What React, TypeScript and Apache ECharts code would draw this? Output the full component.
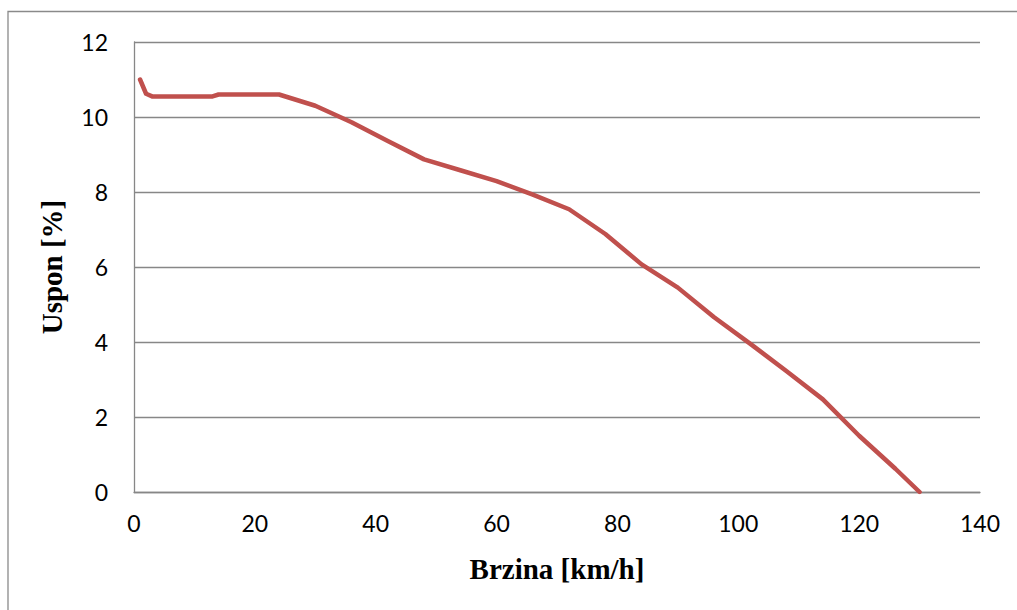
import React, { useEffect, useRef } from "react";
import * as echarts from "echarts";

const speedKmh = [1, 2, 3, 6, 12, 13, 14, 18, 24, 30, 36, 42, 48, 54, 60, 66, 72, 78, 84, 90, 96, 102, 108, 114, 120, 126, 130];
const gradePct = [11.0, 10.62, 10.55, 10.55, 10.55, 10.55, 10.6, 10.6, 10.6, 10.3, 9.86, 9.36, 8.87, 8.58, 8.29, 7.93, 7.54, 6.88, 6.07, 5.45, 4.66, 3.95, 3.22, 2.47, 1.5, 0.62, 0];
const xTitle = "Brzina [km/h]";
const yTitle = "Uspon [%]";

export default function App() {
  const ref = useRef<HTMLDivElement>(null);
  useEffect(() => {
    if (!ref.current) return;
    const chart = echarts.init(ref.current, undefined, { renderer: "svg" });
    const data = speedKmh.map((s, i) => [s, gradePct[i]]);
    chart.setOption({
      animation: false,
      backgroundColor: "#ffffff",
      graphic: [
        {
          type: "rect",
          shape: { x: 8, y: 11.5, width: 1200, height: 800 },
          style: { fill: "none", stroke: "#8a8a8a", lineWidth: 1.3 },
          silent: true,
          z: 0,
        },
      ],
      grid: { left: 134, right: 37, top: 42, bottom: 118, containLabel: false },
      xAxis: {
        type: "value",
        min: 0,
        max: 140,
        interval: 20,
        name: xTitle,
        nameLocation: "middle",
        nameGap: 62,
        nameTextStyle: { fontFamily: "Liberation Serif", fontWeight: "bold", fontSize: 29, color: "#000" },
        axisLine: { show: true, lineStyle: { color: "#878787", width: 1.3 } },
        axisTick: { show: false },
        axisLabel: { color: "#000", fontFamily: "Lato", fontSize: 23, margin: 19 },
        splitLine: { show: false },
      },
      yAxis: {
        type: "value",
        min: 0,
        max: 12,
        interval: 2,
        name: yTitle,
        nameLocation: "middle",
        nameGap: 68,
        nameRotate: 90,
        nameTextStyle: { fontFamily: "Liberation Serif", fontWeight: "bold", fontSize: 29, color: "#000" },
        axisLine: { show: true, lineStyle: { color: "#878787", width: 1.3 } },
        axisTick: { show: false },
        axisLabel: { color: "#000", fontFamily: "Lato", fontSize: 23, margin: 26 },
        splitLine: { show: true, lineStyle: { color: "#878787", width: 1.3 } },
      },
      series: [
        {
          type: "line",
          data,
          showSymbol: false,
          symbol: "none",
          lineStyle: { color: "#c0504d", width: 4.5, cap: "round", join: "round" },
          itemStyle: { color: "#c0504d" },
        },
      ],
    });
    return () => chart.dispose();
  }, []);
  return <div ref={ref} style={{ position: "absolute", left: 0, top: 0, width: 1017, height: 610 }} />;
}
